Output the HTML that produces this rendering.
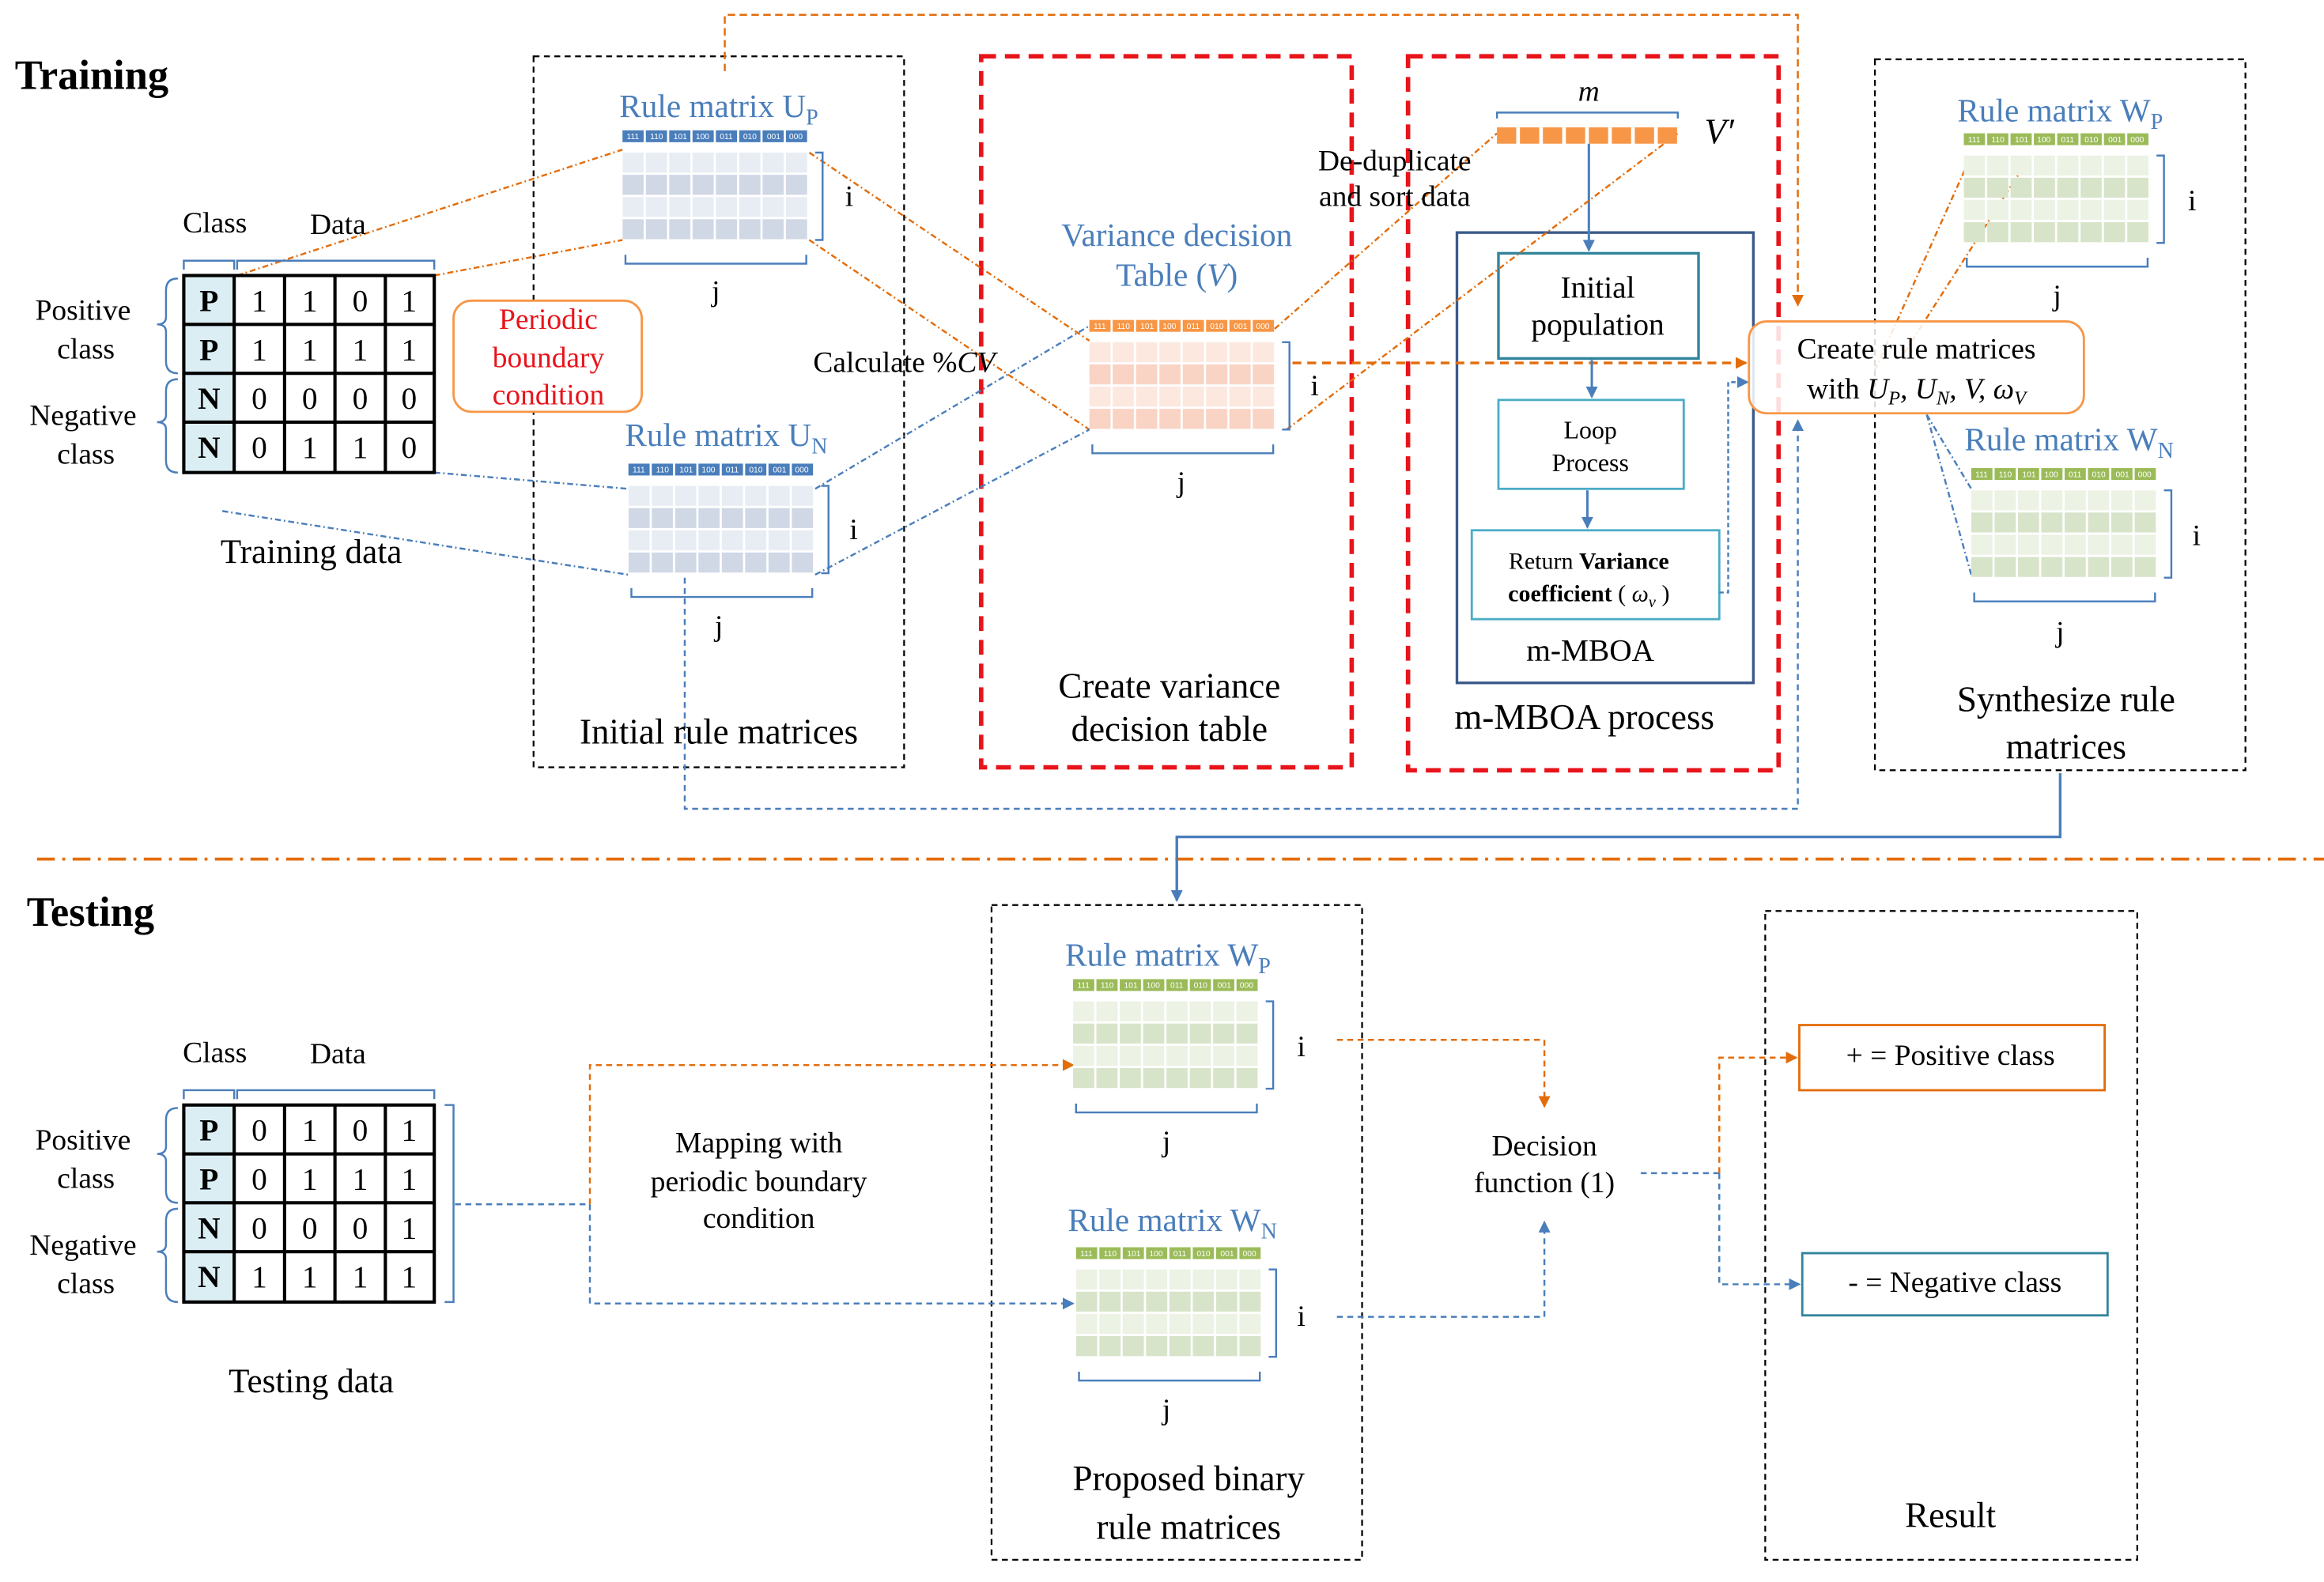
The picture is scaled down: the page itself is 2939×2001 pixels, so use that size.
<!DOCTYPE html>
<html><head><meta charset="utf-8"><style>html,body{margin:0;padding:0;background:#fff}svg{display:block}</style></head><body>
<svg width="2939" height="2001" viewBox="0 0 1568 1068" preserveAspectRatio="none" xmlns="http://www.w3.org/2000/svg" font-family="Liberation Serif, serif">
<defs>
<pattern id="pb" patternUnits="userSpaceOnUse" width="15.75" height="30"><rect width="14.3" height="13.5" fill="#d0d8e6"/><rect y="15" width="14.3" height="13.5" fill="#e8edf4"/></pattern>
<pattern id="po" patternUnits="userSpaceOnUse" width="15.75" height="30"><rect width="14.3" height="13.5" fill="#f9d3c3"/><rect y="15" width="14.3" height="13.5" fill="#fce8df"/></pattern>
<pattern id="pg" patternUnits="userSpaceOnUse" width="15.75" height="30"><rect width="14.3" height="13.5" fill="#d8e4c9"/><rect y="15" width="14.3" height="13.5" fill="#ecf2e4"/></pattern>
<marker id="ao" markerWidth="8" markerHeight="8" refX="7" refY="4" orient="auto" markerUnits="userSpaceOnUse"><path d="M0,0L8,4L0,8z" fill="#e36c0a"/></marker>
<marker id="ab" markerWidth="8" markerHeight="8" refX="7" refY="4" orient="auto" markerUnits="userSpaceOnUse"><path d="M0,0L8,4L0,8z" fill="#4a7ebb"/></marker>
</defs>

<text x="10" y="60" font-size="28" font-weight="bold">Training</text>
<text x="18" y="625" font-size="28" font-weight="bold">Testing</text>
<line x1="25" y1="580" x2="1568" y2="580" stroke="#e36c0a" stroke-width="2" stroke-dasharray="12,5,2,5"/>

<g fill="none" stroke="#000" stroke-width="1.2" stroke-dasharray="4,3">
<rect x="360" y="38" width="250" height="480"/>
<rect x="1265" y="40" width="250" height="480"/>
<rect x="669" y="611" width="250" height="442"/>
<rect x="1191" y="615" width="251" height="438"/>
</g>
<g fill="none" stroke="#e8141b" stroke-width="3" stroke-dasharray="10,6">
<rect x="662" y="38" width="250" height="480"/>
<rect x="950" y="38" width="250" height="482"/>
</g>
<rect x="983" y="157" width="200" height="304" fill="none" stroke="#3b5a8a" stroke-width="1.8"/>
<rect x="1011" y="171" width="135" height="71" fill="none" stroke="#31849b" stroke-width="1.8"/>
<rect x="1011" y="270" width="125" height="60" fill="none" stroke="#4bacc6" stroke-width="1.5"/>
<rect x="993" y="358" width="167" height="60" fill="none" stroke="#4bacc6" stroke-width="1.5"/>
<rect x="306" y="203" width="127" height="75" rx="12" fill="#fff" stroke="#f79646" stroke-width="1.5"/>
<rect x="1214" y="692" width="206" height="44" fill="none" stroke="#e36c0a" stroke-width="1.5"/>
<rect x="1216" y="846" width="206" height="42" fill="none" stroke="#31849b" stroke-width="1.5"/>

<g fill="none" stroke-width="1.3">
<polyline points="489,48 489,10 1213,10 1213,206" stroke="#e36c0a" stroke-dasharray="5,3" marker-end="url(#ao)"/>
<polyline points="462,390 462,546 1213,546 1213,284" stroke="#4a7ebb" stroke-dasharray="4,3" marker-end="url(#ab)"/>
<polyline points="1390,522 1390,565 794,565 794,608" stroke="#4a7ebb" stroke-width="1.8" marker-end="url(#ab)"/>
<line x1="872" y1="245" x2="1178" y2="245" stroke="#e36c0a" stroke-width="1.8" stroke-dasharray="6,4" marker-end="url(#ao)"/>
<polyline points="1160,400 1166,400 1166,258 1179,258" stroke="#4a7ebb" stroke-dasharray="3,2" marker-end="url(#ab)"/>
<line x1="1072" y1="97" x2="1072" y2="169" stroke="#4a7ebb" stroke-width="1.6" marker-end="url(#ab)"/>
<line x1="1074" y1="243" x2="1074" y2="268" stroke="#4a7ebb" stroke-width="1.6" marker-end="url(#ab)"/>
<line x1="1071" y1="331" x2="1071" y2="356" stroke="#4a7ebb" stroke-width="1.6" marker-end="url(#ab)"/>
<g stroke="#e36c0a" stroke-dasharray="4,2,1,2">
<line x1="160" y1="186" x2="420" y2="101"/><line x1="293" y1="186" x2="420" y2="162"/>
<line x1="546" y1="103" x2="735" y2="230"/><line x1="546" y1="162" x2="735" y2="290"/>
<line x1="860" y1="222" x2="1010" y2="90"/><line x1="868" y1="290" x2="1132" y2="90"/>
<line x1="1265" y1="250" x2="1330" y2="105"/><line x1="1285" y1="238" x2="1370" y2="105"/>
</g>
<g stroke="#4a7ebb" stroke-dasharray="4,2,1,2">
<line x1="293" y1="319" x2="424" y2="330"/><line x1="150" y1="345" x2="424" y2="388"/>
<line x1="550" y1="330" x2="735" y2="220"/><line x1="550" y1="388" x2="735" y2="290"/>
<line x1="1300" y1="280" x2="1330" y2="330"/><line x1="1300" y1="280" x2="1330" y2="388"/>
</g>
<line x1="307" y1="813" x2="398" y2="813" stroke="#4a7ebb" stroke-dasharray="4,3"/>
<polyline points="398,813 398,719 724,719" stroke="#e36c0a" stroke-dasharray="4,3" marker-end="url(#ao)"/>
<polyline points="398,813 398,880 724,880" stroke="#4a7ebb" stroke-dasharray="4,3" marker-end="url(#ab)"/>
<polyline points="902,702 1042,702 1042,747" stroke="#e36c0a" stroke-dasharray="4,3" marker-end="url(#ao)"/>
<polyline points="902,889 1042,889 1042,825" stroke="#4a7ebb" stroke-dasharray="4,3" marker-end="url(#ab)"/>
<line x1="1107" y1="792" x2="1160" y2="792" stroke="#4a7ebb" stroke-dasharray="4,3"/>
<polyline points="1160,792 1160,714 1212,714" stroke="#e36c0a" stroke-dasharray="4,3" marker-end="url(#ao)"/>
<polyline points="1160,792 1160,867 1214,867" stroke="#4a7ebb" stroke-dasharray="4,3" marker-end="url(#ab)"/>
</g>

<path d="M1010,80 V76 H1132 V80" fill="none" stroke="#4a7ebb" stroke-width="1.3"/>
<text x="1072" y="68" font-size="20" font-style="italic" text-anchor="middle">m</text>
<g fill="#f79646">
<rect x="1010" y="86" width="13" height="11"/><rect x="1025.5" y="86" width="13" height="11"/><rect x="1041" y="86" width="13" height="11"/><rect x="1056.5" y="86" width="13" height="11"/><rect x="1072" y="86" width="13" height="11"/><rect x="1087.5" y="86" width="13" height="11"/><rect x="1103" y="86" width="13" height="11"/><rect x="1118.5" y="86" width="13" height="11"/>
</g>
<text x="1150" y="97" font-size="24" font-style="italic">V′</text>

<g font-family="Liberation Sans, sans-serif" font-size="5.5" fill="#fff" text-anchor="middle">
<g transform="translate(420,88)">
<g fill="#4a7ebb"><rect x="0" width="14.3" height="8"/><rect x="15.75" width="14.3" height="8"/><rect x="31.5" width="14.3" height="8"/><rect x="47.25" width="14.3" height="8"/><rect x="63" width="14.3" height="8"/><rect x="78.75" width="14.3" height="8"/><rect x="94.5" width="14.3" height="8"/><rect x="110.25" width="14.3" height="8"/></g>
<text y="6"><tspan x="7">111</tspan><tspan x="23">110</tspan><tspan x="39">101</tspan><tspan x="54">100</tspan><tspan x="70">011</tspan><tspan x="86">010</tspan><tspan x="102">001</tspan><tspan x="117">000</tspan></text>
<rect y="15" width="126" height="59" fill="url(#pb)"/>
</g>
<g transform="translate(424,313)">
<g fill="#4a7ebb"><rect x="0" width="14.3" height="8"/><rect x="15.75" width="14.3" height="8"/><rect x="31.5" width="14.3" height="8"/><rect x="47.25" width="14.3" height="8"/><rect x="63" width="14.3" height="8"/><rect x="78.75" width="14.3" height="8"/><rect x="94.5" width="14.3" height="8"/><rect x="110.25" width="14.3" height="8"/></g>
<text y="6"><tspan x="7">111</tspan><tspan x="23">110</tspan><tspan x="39">101</tspan><tspan x="54">100</tspan><tspan x="70">011</tspan><tspan x="86">010</tspan><tspan x="102">001</tspan><tspan x="117">000</tspan></text>
<rect y="15" width="126" height="59" fill="url(#pb)"/>
</g>
<g transform="translate(735,216)">
<g fill="#f79646"><rect x="0" width="14.3" height="8"/><rect x="15.75" width="14.3" height="8"/><rect x="31.5" width="14.3" height="8"/><rect x="47.25" width="14.3" height="8"/><rect x="63" width="14.3" height="8"/><rect x="78.75" width="14.3" height="8"/><rect x="94.5" width="14.3" height="8"/><rect x="110.25" width="14.3" height="8"/></g>
<text y="6"><tspan x="7">111</tspan><tspan x="23">110</tspan><tspan x="39">101</tspan><tspan x="54">100</tspan><tspan x="70">011</tspan><tspan x="86">010</tspan><tspan x="102">001</tspan><tspan x="117">000</tspan></text>
<rect y="15" width="126" height="59" fill="url(#po)"/>
</g>
<g transform="translate(1325,90)">
<g fill="#9bbb59"><rect x="0" width="14.3" height="8"/><rect x="15.75" width="14.3" height="8"/><rect x="31.5" width="14.3" height="8"/><rect x="47.25" width="14.3" height="8"/><rect x="63" width="14.3" height="8"/><rect x="78.75" width="14.3" height="8"/><rect x="94.5" width="14.3" height="8"/><rect x="110.25" width="14.3" height="8"/></g>
<text y="6"><tspan x="7">111</tspan><tspan x="23">110</tspan><tspan x="39">101</tspan><tspan x="54">100</tspan><tspan x="70">011</tspan><tspan x="86">010</tspan><tspan x="102">001</tspan><tspan x="117">000</tspan></text>
<rect y="15" width="126" height="59" fill="url(#pg)"/>
</g>
<g transform="translate(1330,316)">
<g fill="#9bbb59"><rect x="0" width="14.3" height="8"/><rect x="15.75" width="14.3" height="8"/><rect x="31.5" width="14.3" height="8"/><rect x="47.25" width="14.3" height="8"/><rect x="63" width="14.3" height="8"/><rect x="78.75" width="14.3" height="8"/><rect x="94.5" width="14.3" height="8"/><rect x="110.25" width="14.3" height="8"/></g>
<text y="6"><tspan x="7">111</tspan><tspan x="23">110</tspan><tspan x="39">101</tspan><tspan x="54">100</tspan><tspan x="70">011</tspan><tspan x="86">010</tspan><tspan x="102">001</tspan><tspan x="117">000</tspan></text>
<rect y="15" width="126" height="59" fill="url(#pg)"/>
</g>
<g transform="translate(724,661)">
<g fill="#9bbb59"><rect x="0" width="14.3" height="8"/><rect x="15.75" width="14.3" height="8"/><rect x="31.5" width="14.3" height="8"/><rect x="47.25" width="14.3" height="8"/><rect x="63" width="14.3" height="8"/><rect x="78.75" width="14.3" height="8"/><rect x="94.5" width="14.3" height="8"/><rect x="110.25" width="14.3" height="8"/></g>
<text y="6"><tspan x="7">111</tspan><tspan x="23">110</tspan><tspan x="39">101</tspan><tspan x="54">100</tspan><tspan x="70">011</tspan><tspan x="86">010</tspan><tspan x="102">001</tspan><tspan x="117">000</tspan></text>
<rect y="15" width="126" height="59" fill="url(#pg)"/>
</g>
<g transform="translate(726,842)">
<g fill="#9bbb59"><rect x="0" width="14.3" height="8"/><rect x="15.75" width="14.3" height="8"/><rect x="31.5" width="14.3" height="8"/><rect x="47.25" width="14.3" height="8"/><rect x="63" width="14.3" height="8"/><rect x="78.75" width="14.3" height="8"/><rect x="94.5" width="14.3" height="8"/><rect x="110.25" width="14.3" height="8"/></g>
<text y="6"><tspan x="7">111</tspan><tspan x="23">110</tspan><tspan x="39">101</tspan><tspan x="54">100</tspan><tspan x="70">011</tspan><tspan x="86">010</tspan><tspan x="102">001</tspan><tspan x="117">000</tspan></text>
<rect y="15" width="126" height="59" fill="url(#pg)"/>
</g>
</g>

<g fill="none" stroke="#4a7ebb" stroke-width="1.3">
<path d="M550,103H555V162H550"/><path d="M422,172V178H544V172"/>
<path d="M554,328H559V387H554"/><path d="M426,397V403H548V397"/>
<path d="M865,231H870V290H865"/><path d="M737,300V306H859V300"/>
<path d="M1455,105H1460V164H1455"/><path d="M1327,174V180H1449V174"/>
<path d="M1460,331H1465V390H1460"/><path d="M1332,400V406H1454V400"/>
<path d="M854,676H859V735H854"/><path d="M726,745V751H848V745"/>
<path d="M856,857H861V916H856"/><path d="M728,926V932H850V926"/>
</g>
<g font-size="20" text-anchor="middle">
<text x="573" y="139">i</text><text x="483" y="203">j</text>
<text x="576" y="364">i</text><text x="485" y="429">j</text>
<text x="887" y="267">i</text><text x="797" y="332">j</text>
<text x="1479" y="142">i</text><text x="1388" y="206">j</text>
<text x="1482" y="368">i</text><text x="1390" y="433">j</text>
<text x="878" y="713">i</text><text x="787" y="777">j</text>
<text x="878" y="895">i</text><text x="787" y="958">j</text>
</g>

<g fill="#4a7ebb" font-size="22" text-anchor="middle">
<text x="485" y="79">Rule matrix U<tspan font-size="15" dy="5">P</tspan></text>
<text x="490" y="301">Rule matrix U<tspan font-size="15" dy="5">N</tspan></text>
<text x="1390" y="82">Rule matrix W<tspan font-size="15" dy="5">P</tspan></text>
<text x="1396" y="304">Rule matrix W<tspan font-size="15" dy="5">N</tspan></text>
<text x="788" y="652">Rule matrix W<tspan font-size="15" dy="5">P</tspan></text>
<text x="791" y="831">Rule matrix W<tspan font-size="15" dy="5">N</tspan></text>
<text x="794" y="166">Variance decision</text>
<text x="794" y="193">Table (<tspan font-style="italic">V</tspan>)</text>
</g>

<g font-size="21" text-anchor="middle">
<g>
<rect x="124" y="186" width="34" height="133" fill="#dbeef4"/>
<g fill="none" stroke="#000" stroke-width="2.2"><rect x="124" y="186" width="169" height="133"/>
<path d="M124,219H293M124,252H293M124,285H293M158,186V319M192,186V319M226,186V319M260,186V319"/></g>
<g font-weight="bold"><text x="141" y="210">P</text><text x="141" y="243">P</text><text x="141" y="276">N</text><text x="141" y="309">N</text></g>
<text y="210"><tspan x="175">1</tspan><tspan x="209">1</tspan><tspan x="243">0</tspan><tspan x="276">1</tspan></text>
<text y="243"><tspan x="175">1</tspan><tspan x="209">1</tspan><tspan x="243">1</tspan><tspan x="276">1</tspan></text>
<text y="276"><tspan x="175">0</tspan><tspan x="209">0</tspan><tspan x="243">0</tspan><tspan x="276">0</tspan></text>
<text y="309"><tspan x="175">0</tspan><tspan x="209">1</tspan><tspan x="243">1</tspan><tspan x="276">0</tspan></text>
</g>
<g>
<rect x="124" y="746" width="34" height="133" fill="#dbeef4"/>
<g fill="none" stroke="#000" stroke-width="2.2"><rect x="124" y="746" width="169" height="133"/>
<path d="M124,779H293M124,812H293M124,845H293M158,746V879M192,746V879M226,746V879M260,746V879"/></g>
<g font-weight="bold"><text x="141" y="770">P</text><text x="141" y="803">P</text><text x="141" y="836">N</text><text x="141" y="869">N</text></g>
<text y="770"><tspan x="175">0</tspan><tspan x="209">1</tspan><tspan x="243">0</tspan><tspan x="276">1</tspan></text>
<text y="803"><tspan x="175">0</tspan><tspan x="209">1</tspan><tspan x="243">1</tspan><tspan x="276">1</tspan></text>
<text y="836"><tspan x="175">0</tspan><tspan x="209">0</tspan><tspan x="243">0</tspan><tspan x="276">1</tspan></text>
<text y="869"><tspan x="175">1</tspan><tspan x="209">1</tspan><tspan x="243">1</tspan><tspan x="276">1</tspan></text>
</g>
</g>
<g fill="none" stroke="#4a7ebb" stroke-width="1.3">
<path d="M124,182V176H158V182M160,182V176H293V182"/>
<path d="M120,188Q112,188 112,196V214Q112,219 106,219Q112,219 112,224V244Q112,252 120,252"/>
<path d="M120,256Q112,256 112,264V280Q112,285 106,285Q112,285 112,290V311Q112,319 120,319"/>
<path d="M124,742V736H158V742M160,742V736H293V742"/>
<path d="M120,748Q112,748 112,756V774Q112,779 106,779Q112,779 112,784V804Q112,812 120,812"/>
<path d="M120,816Q112,816 112,824V840Q112,845 106,845Q112,845 112,850V871Q112,879 120,879"/>
<path d="M300,746H306V879H300"/>
</g>

<g font-size="20" text-anchor="middle">
<text x="145" y="157">Class</text><text x="228" y="158">Data</text>
<text x="56" y="216">Positive</text><text x="58" y="242">class</text>
<text x="56" y="287">Negative</text><text x="58" y="313">class</text>
<text x="145" y="717">Class</text><text x="228" y="718">Data</text>
<text x="56" y="776">Positive</text><text x="58" y="802">class</text>
<text x="56" y="847">Negative</text><text x="58" y="873">class</text>
<text x="210" y="380" font-size="23">Training data</text>
<text x="210" y="940" font-size="23">Testing data</text>
<text x="485" y="502" font-size="24">Initial rule matrices</text>
<text x="610" y="251">Calculate %<tspan font-style="italic">CV</tspan></text>
<text x="941" y="115">De-duplicate</text><text x="941" y="139">and sort data</text>
<text x="789" y="471" font-size="24">Create variance</text><text x="789" y="500" font-size="24">decision table</text>
<text x="1069" y="492" font-size="24">m-MBOA process</text>
<text x="1073" y="446" font-size="21">m-MBOA</text>
<text x="1078" y="201" font-size="21">Initial</text><text x="1078" y="226" font-size="21">population</text>
<text x="1073" y="296" font-size="17">Loop</text><text x="1073" y="318" font-size="17">Process</text>
<text x="1072" y="384" font-size="16">Return <tspan font-weight="bold">Variance</tspan></text>
<text x="1072" y="406" font-size="16"><tspan font-weight="bold">coefficient</tspan> ( <tspan font-style="italic">ω</tspan><tspan font-size="11" dy="4" font-style="italic">v</tspan><tspan dy="-4"> )</tspan></text>
<text x="1394" y="480" font-size="24">Synthesize rule</text><text x="1394" y="512" font-size="24">matrices</text>
<text x="370" y="222" fill="#e8141b">Periodic</text><text x="370" y="248" fill="#e8141b">boundary</text><text x="370" y="273" fill="#e8141b">condition</text>
<text x="512" y="778">Mapping with</text><text x="512" y="804">periodic boundary</text><text x="512" y="829">condition</text>
<text x="1042" y="780">Decision</text><text x="1042" y="805">function (1)</text>
<text x="1316" y="719">+ = Positive class</text>
<text x="1319" y="872">- = Negative class</text>
<text x="802" y="1006" font-size="24">Proposed binary</text><text x="802" y="1039" font-size="24">rule matrices</text>
<text x="1316" y="1031" font-size="24">Result</text>
</g>
<rect x="1180" y="217" width="226" height="62" rx="12" fill="#fff" fill-opacity="0.85" stroke="#f79646" stroke-width="1.5"/>
<g font-size="20" text-anchor="middle">
<text x="1293" y="242">Create rule matrices</text>
<text x="1293" y="269">with <tspan font-style="italic">U</tspan><tspan font-size="13" dy="4" font-style="italic">P</tspan><tspan dy="-4" font-style="italic">, U</tspan><tspan font-size="13" dy="4" font-style="italic">N</tspan><tspan dy="-4" font-style="italic">, V, ω</tspan><tspan font-size="13" dy="4" font-style="italic">V</tspan></text>
</g>
</svg>
</body></html>
